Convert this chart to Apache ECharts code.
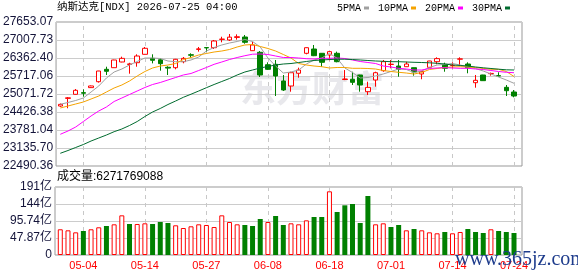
<!DOCTYPE html>
<html><head><meta charset="utf-8">
<script src="https://cdn.jsdelivr.net/npm/echarts@6/dist/echarts.min.js"></script>
<style>html,body{margin:0;padding:0;background:#fff;}#c{width:578px;height:276px;}</style>
</head><body><div id="c"></div>
<script>
const titleText = '纳斯达克[NDX] 2026-07-25 04:00';
const volumeTitle = '成交量:6271769088';
const watermarkText = '东方财富';
const siteText = 'www.365jz.com';

const dates = ['04-29','04-30','05-01','05-04','05-05','05-06','05-07','05-08','05-11','05-12',
 '05-13','05-14','05-15','05-18','05-19','05-20','05-21','05-22','05-26','05-27',
 '05-28','05-29','06-01','06-02','06-03','06-04','06-05','06-08','06-09','06-10',
 '06-11','06-12','06-15','06-16','06-17','06-18','06-22','06-23','06-24','06-25',
 '06-26','06-29','06-30','07-01','07-02','07-06','07-07','07-08','07-09','07-10',
 '07-13','07-14','07-15','07-16','07-17','07-20','07-21','07-22','07-23','07-24'];
const labelDates = ['05-04','05-14','05-27','06-08','06-18','07-01','07-14','07-24'];

const opens = [24640,24915,25060,25120,25300,25513,25957,26015,26219,26130,
 26194,26495,26350,26300,26030,26015,26230,26480,26670,26735,
 26732,27030,27008,27100,27115,26625,26567,26122,26137,25538,
 25358,25815,26531,26685,26531,26470,26531,25590,25600,25753,
 25155,25573,25907,26130,26075,26050,26015,25790,26028,26230,
 26137,26090,26320,26147,25477,25753,25800,25730,25311,25143];
const closes = [24700,24935,25204,25100,25360,25896,25886,26291,26350,26150,
 26434,26710,26280,26160,26000,26316,26350,26462,26690,26725,
 26972,27040,27110,27125,26925,26829,25753,25957,25717,25215,
 25835,25932,26732,26445,26208,26590,26230,25610,25490,25394,
 25310,25835,26230,26140,25957,26147,25860,25880,26255,26340,
 25993,26100,26330,26015,25562,25550,25810,25717,25190,25000];
const lows = [24610,24560,25050,24975,25290,25480,25753,26010,26210,25800,
 26050,26490,26170,25907,25753,25957,26173,26373,26590,26590,
 26685,26925,26972,27020,26875,26620,25681,25932,25000,25180,
 25155,25656,26495,26430,26050,26280,26208,25570,25394,25155,
 25036,25334,25870,25993,25692,26040,25728,25600,26000,26137,
 25871,25993,26111,25814,25298,25540,25730,25700,25000,24953];
const highs = [24730,24964,25250,25240,25375,25900,26050,26300,26410,26190,
 26495,26757,26495,26350,26065,26330,26398,26530,26757,26740,
 27008,27125,27223,27210,27187,26947,26613,26208,26291,25753,
 25871,26015,26740,26829,26540,26613,26590,25930,25870,25760,
 25513,25871,26291,26291,26291,26230,26020,25890,26260,26387,
 26194,26208,26387,26208,25753,25760,25840,25850,25394,25215];

const ma5 = [24702,24767,24839,24928,25143,25358,25645,25860,25968,26111,
 26237,26362,26362,26344,26255,26230,26230,26291,26398,26613,
 26739,26829,26900,26954,27026,26954,26757,26362,26075,25824,
 25860,25932,26147,26291,26362,26531,26352,26004,25842,25645,
 25663,25717,25789,25878,25968,25950,25842,25896,26022,26111,
 26129,26165,26111,26040,25986,25896,25789,25681,25574,25455];
const ma10 = [24570,24641,24713,24785,24892,25000,25143,25287,25394,25538,
 25717,25878,26004,26075,26111,26165,26308,26380,26470,26524,
 26577,26613,26667,26757,26829,26846,26775,26703,26613,26488,
 26362,26165,26111,26075,26050,26004,26022,26022,25993,25993,
 25986,25968,25914,25878,25850,25824,25789,25842,25950,25986,
 26022,26040,26050,26040,26022,25986,25957,25957,25878,25699];
const ma20 = [23627,23745,23888,24085,24283,24462,24606,24803,24928,25054,
 25179,25305,25412,25484,25574,25663,25753,25807,25914,26022,
 26136,26219,26308,26380,26444,26498,26506,26488,26434,26380,
 26380,26362,26337,26326,26352,26352,26362,26344,26291,26237,
 26201,26165,26075,26040,25993,25968,25932,25932,25986,26004,
 26015,26004,25993,25993,25968,25950,25914,25878,25850,25835];
const ma30 = [22946,23046,23154,23261,23386,23494,23601,23720,23817,23942,
 24085,24265,24426,24552,24695,24821,24953,25064,25179,25298,
 25412,25520,25627,25753,25860,25932,26004,26058,26111,26147,
 26165,26201,26237,26273,26291,26308,26319,26319,26308,26291,
 26273,26255,26244,26230,26230,26219,26208,26201,26190,26172,
 26147,26111,26093,26075,26040,26011,25986,25961,25939,25932];

// volume in 亿
const volumes = [72.4,69.5,63.8,67.6,72.4,78,81.7,86.4,111.7,87.3,
 87.3,89.2,87.3,92.9,90.1,83.6,76,80.8,86.4,84.5,
 78.8,111.7,92.9,86.4,84.5,81.7,101.4,92.9,109.8,84.5,
 89.2,86.4,97.6,107,107,179.3,121.1,139.9,143.6,90.1,
 166.1,86.4,89.2,78.8,84.5,69.5,73.2,69.5,63.8,61.1,
 64.8,61.1,64.8,73.2,64.8,62,72.4,67.6,64.8,62];

const priceTickLabels = ['22490.36','23135.70','23781.04','24426.38','25071.72','25717.06','26362.40','27007.73','27653.07'];
const volumeTickLabels = ['0','47.87亿','95.74亿','144亿','191亿'];
const priceMin = 22490.36, priceMax = 27653.07, volumeMax = 191.48;
const maNames = ['5PMA','10PMA','20PMA','30PMA'];

const RED = '#ff0000', GREEN = '#008000';
const MA_COLORS = ['#a0a0a0', '#f5a300', '#ff00ff', '#006b2e'];
const LABEL_COLOR = '#14143a';
const FRAME = {left: 55, width: 467};
const DATA = {left: 56.45, width: 461.4};
const MAIN = {top: 22, height: 144};
const VOL = {top: 187, height: 68};

const chart = echarts.init(document.getElementById('c'), null, {renderer: 'canvas'});

const vLines = {
  silent: true, symbol: 'none', z: 0, animation: false,
  label: {show: false},
  lineStyle: {color: '#c8c8c8', type: [4, 4], width: 1},
  data: labelDates.map(d => ({xAxis: d}))
};

const volData = volumes.map((v, i) => {
  const up = i === 0 ? closes[i] >= opens[i] : closes[i] >= closes[i - 1];
  return {value: v, itemStyle: up ? {color: '#fff', borderColor: RED, borderWidth: 1} : {color: GREEN, borderColor: GREEN, borderWidth: 0}};
});

const maSeries = [ma5, ma10, ma20, ma30].map((arr, k) => ({
  type: 'line', name: maNames[k], xAxisIndex: 1, yAxisIndex: 1, data: arr,
  showSymbol: false, symbol: 'none', smooth: false, z: 3,
  lineStyle: {color: MA_COLORS[k], width: 1}, itemStyle: {color: MA_COLORS[k]}
}));

const option = {
  animation: false,
  backgroundColor: '#fff',
  grid: [
    {left: FRAME.left, width: FRAME.width, top: MAIN.top, height: MAIN.height, show: true, borderColor: '#999', borderWidth: 1, containLabel: false},
    {left: DATA.left, width: DATA.width, top: MAIN.top, height: MAIN.height, containLabel: false},
    {left: FRAME.left, width: FRAME.width, top: VOL.top, height: VOL.height, show: true, borderColor: '#999', borderWidth: 1, containLabel: false},
    {left: DATA.left, width: DATA.width, top: VOL.top, height: VOL.height, containLabel: false}
  ],
  xAxis: [
    {gridIndex: 0, type: 'value', min: 0, max: 1, show: false},
    {gridIndex: 1, type: 'category', data: dates, boundaryGap: true, axisLine: {show: false}, axisTick: {show: false}, axisLabel: {show: false}, splitLine: {show: false}},
    {gridIndex: 2, type: 'value', min: 0, max: 1, show: false},
    {gridIndex: 3, type: 'category', data: dates, boundaryGap: true, axisLine: {show: false}, axisTick: {show: false}, splitLine: {show: false},
      axisLabel: {show: true, interval: (idx, val) => labelDates.includes(val), color: RED, fontSize: 11, fontFamily: '"Liberation Sans", Arial, sans-serif', margin: 5}}
  ],
  yAxis: [
    {gridIndex: 0, type: 'value', min: 0, max: priceTickLabels.length - 1, interval: 1,
      axisLine: {show: false}, axisTick: {show: false},
      splitLine: {show: true, lineStyle: {color: '#cccccc', width: 1}},
      axisLabel: {show: true, margin: 3, color: LABEL_COLOR, fontSize: 12, fontFamily: '"Liberation Sans", Arial, sans-serif', formatter: v => priceTickLabels[Math.round(v)], padding: [0, 0, 3, 0]}},
    {gridIndex: 1, type: 'value', min: priceMin, max: priceMax, show: false, splitLine: {show: false}},
    {gridIndex: 2, type: 'value', min: 0, max: volumeTickLabels.length - 1, interval: 1,
      axisLine: {show: false}, axisTick: {show: false},
      splitLine: {show: true, lineStyle: {color: '#cccccc', width: 1}},
      axisLabel: {show: true, margin: 3, color: LABEL_COLOR, fontSize: 12, fontFamily: '"Liberation Sans", "Noto Sans CJK SC", sans-serif', formatter: v => volumeTickLabels[Math.round(v)], padding: [0, 0, 3, 0]}},
    {gridIndex: 3, type: 'value', min: 0, max: volumeMax, show: false, splitLine: {show: false}}
  ],
  legend: {
    data: maNames, left: 337, top: 3, align: 'right', icon: 'rect',
    itemWidth: 5, itemHeight: 3, itemGap: 9, padding: 0,
    textStyle: {fontFamily: '"Liberation Mono", monospace', fontSize: 10, color: '#000', padding: [0, -2, 0, 0]}
  },
  graphic: [
    {type: 'text', left: 57, top: 2, z: 10, style: {text: titleText, font: '10.5px "Liberation Mono", "Noto Sans CJK SC", monospace', fill: '#000'}},
    {type: 'text', left: 57, top: 171, z: 10, style: {text: volumeTitle, font: '12px "Liberation Sans", "Noto Sans CJK SC", sans-serif', fill: '#000'}},
    {type: 'text', left: 240, top: 70, z: -1, silent: true, style: {text: watermarkText, font: 'bold 36px "Noto Sans CJK SC", sans-serif', fill: '#e8e8ec'}},
    {type: 'text', left: 455, top: 250, z: 20, silent: true, style: {text: siteText, font: '20px "Liberation Serif", serif', fill: '#1e3c8c'}}
  ],
  series: [
    {type: 'candlestick', name: 'K', xAxisIndex: 1, yAxisIndex: 1, barWidth: 5, z: 2,
      data: dates.map((d, i) => [opens[i], closes[i], lows[i], highs[i]]),
      itemStyle: {color: '#fff', color0: GREEN, borderColor: RED, borderColor0: GREEN, borderWidth: 1},
      markLine: vLines},
    ...maSeries,
    {type: 'bar', name: 'VOL', xAxisIndex: 3, yAxisIndex: 3, barWidth: 5, data: volData, markLine: vLines}
  ]
};
chart.setOption(option);
</script></body></html>
